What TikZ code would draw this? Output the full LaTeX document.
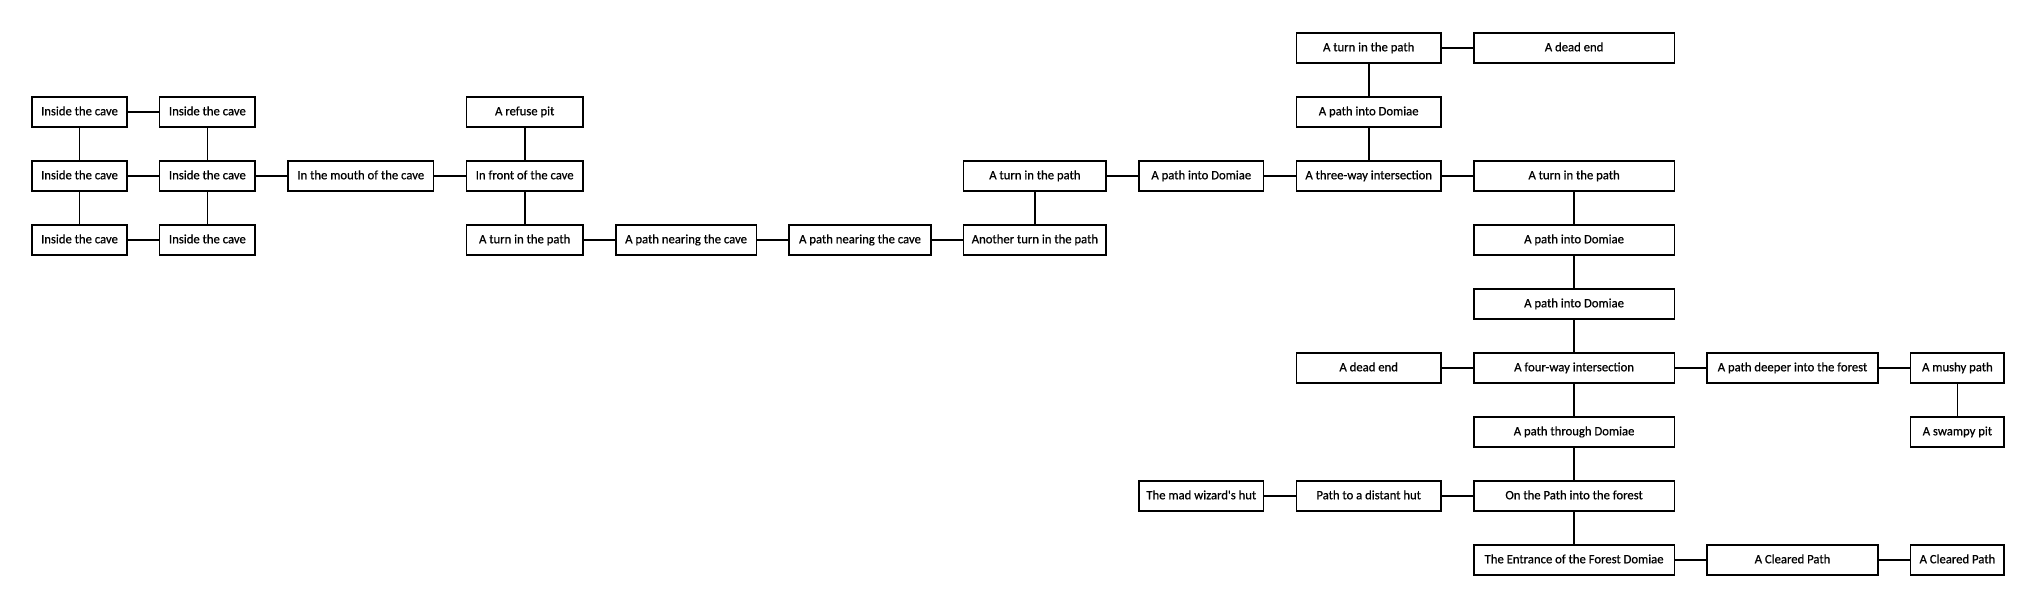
\documentclass[tikz,border=0pt]{standalone}
\usepackage{fontspec}
\setmainfont{Carlito}
\newfontfamily\roomfont{Carlito}[FakeBold=0.7]
\usepackage{tikz}
\usetikzlibrary{positioning}

\begin{document}
\begin{tikzpicture}[
        x=1pt, y=1pt,
        node distance=32.4pt and 31.3pt,
        room/.style={rectangle, draw, line width=1.6pt, minimum height=30pt,
            inner sep=0pt, text height=9pt, text depth=2.5pt,
            font=\roomfont\fontsize{12.7}{14}\selectfont},
        link/.style={line width=1.8pt}
    ]
        \useasboundingbox (0,0) rectangle (2035,-608);

        % The cave
        \node[room, minimum width=94.5pt] (cave1) at (79.5,-112) {Inside the cave};
        \node[room, minimum width=95.5pt, right=of cave1] (cave2) {Inside the cave};
        \node[room, minimum width=94.5pt, below=of cave1] (cave3) {Inside the cave};
        \node[room, minimum width=95.5pt, right=of cave3] (cave4) {Inside the cave};
        \node[room, minimum width=94.5pt, below=of cave3] (cave5) {Inside the cave};
        \node[room, minimum width=95.5pt, right=of cave5] (cave6) {Inside the cave};
        \node[room, minimum width=145.5pt, right=of cave4] (mouth) {In the mouth of the cave};
        \node[room, minimum width=116.5pt, right=of mouth] (front) {In front of the cave};
        \node[room, minimum width=116.5pt, above=of front] (pit) {A refuse pit};
        \node[room, minimum width=116.5pt, below=of front] (turn1) {A turn in the path};

        % Path to the forest
        \node[room, minimum width=140.5pt, right=of turn1] (near1) {A path nearing the cave};
        \node[room, minimum width=141.5pt, right=of near1] (near2) {A path nearing the cave};
        \node[room, minimum width=142.5pt, right=of near2] (turn2) {Another turn in the path};
        \node[room, minimum width=142.5pt, above=of turn2] (turn3) {A turn in the path};
        \node[room, minimum width=124.5pt, right=of turn3] (dom1) {A path into Domiae};
        \node[room, minimum width=144.5pt, right=of dom1] (three) {A three-way intersection};
        \node[room, minimum width=144.5pt, above=of three] (dom2) {A path into Domiae};
        \node[room, minimum width=144.5pt, above=of dom2] (turn4) {A turn in the path};
        \node[room, minimum width=200.5pt, right=of turn4] (dead1) {A dead end};

        % The forest
        \node[room, minimum width=200.5pt, right=of three] (turn5) {A turn in the path};
        \node[room, minimum width=200.5pt, below=of turn5] (dom3) {A path into Domiae};
        \node[room, minimum width=200.5pt, below=of dom3] (dom4) {A path into Domiae};
        \node[room, minimum width=200.5pt, below=of dom4] (four) {A four-way intersection};
        \node[room, minimum width=144.5pt, left=of four] (dead2) {A dead end};
        \node[room, minimum width=170.5pt, right=of four] (deeper) {A path deeper into the forest};
        \node[room, minimum width=93.5pt, right=of deeper] (mushy) {A mushy path};
        \node[room, minimum width=93.5pt, below=of mushy] (swamp) {A swampy pit};
        \node[room, minimum width=200.5pt, below=of four] (through) {A path through Domiae};
        \node[room, minimum width=200.5pt, below=of through] (onpath) {On the Path into the forest};
        \node[room, minimum width=144.5pt, left=of onpath] (hut) {Path to a distant hut};
        \node[room, minimum width=124.5pt, left=of hut] (wizard) {The mad wizard's hut};
        \node[room, minimum width=200.5pt, below=of onpath] (entrance) {The Entrance of the Forest Domiae};
        \node[room, minimum width=170.5pt, right=of entrance] (clear1) {A Cleared Path};
        \node[room, minimum width=93.5pt, right=of clear1] (clear2) {A Cleared Path};

        % Cave links
        \path[link]
            (cave1) edge (cave2)
            (cave1) edge (cave3)
            (cave2) edge (cave4)
            (cave3) edge (cave4)
            (cave3) edge (cave5)
            (cave4) edge (cave6)
            (cave5) edge (cave6)
            (cave4) edge (mouth)
            (mouth) edge (front)
            (front) edge (pit)
            (front) edge (turn1);

        % Path links
        \path[link]
            (turn1) edge (near1)
            (near1) edge (near2)
            (near2) edge (turn2)
            (turn2) edge (turn3)
            (turn3) edge (dom1)
            (dom1) edge (three)
            (three) edge (dom2)
            (dom2) edge (turn4)
            (turn4) edge (dead1)
            (three) edge (turn5);

        % Forest links
        \path[link]
            (turn5) edge (dom3)
            (dom3) edge (dom4)
            (dom4) edge (four)
            (dead2) edge (four)
            (four) edge (deeper)
            (deeper) edge (mushy)
            (mushy) edge (swamp)
            (four) edge (through)
            (through) edge (onpath)
            (wizard) edge (hut)
            (hut) edge (onpath)
            (onpath) edge (entrance)
            (entrance) edge (clear1)
            (clear1) edge (clear2);

    \end{tikzpicture}
\end{document}
